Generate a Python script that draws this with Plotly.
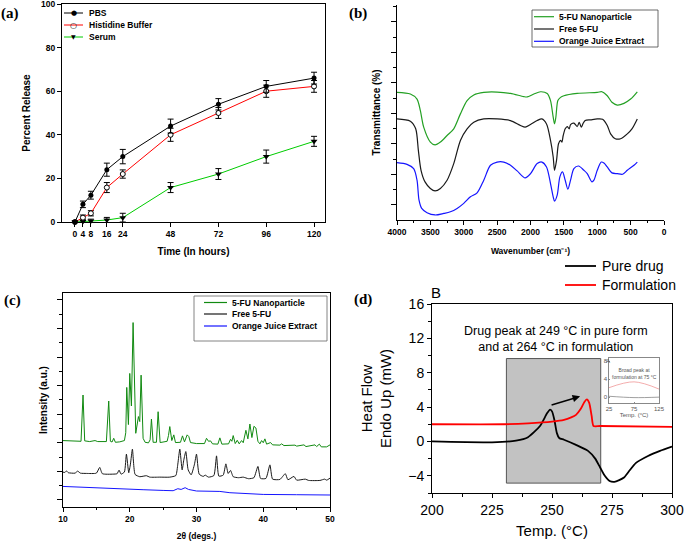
import plotly.graph_objects as go

W, H = 685, 542
AR = "Arial, Liberation Sans, sans-serif"
SERIF = "Times New Roman, Liberation Serif, serif"


def fx(p):
    return p / W


def fy(p):
    return 1 - p / H


# ---------------- (a) release data ----------------
time_h = [0, 4, 8, 16, 24, 48, 72, 96, 120]
pbs = [0, 8.1, 12.3, 24, 30, 44, 54, 62.2, 66]
pbs_err = [0.5, 1.5, 1.8, 3.0, 3.3, 3.2, 2.6, 2.7, 2.7]
his = [0, 2, 4, 15.8, 22, 40, 50, 60, 62.2]
his_err = [0.5, 1.2, 1.2, 2.3, 1.9, 3.0, 2.5, 2.8, 2.7]
ser = [0, 0.2, 0.5, 0.9, 2, 15.8, 22, 30, 37]
ser_err = [0.3, 0.8, 0.8, 1.2, 2.0, 2.3, 2.5, 3.0, 2.3]

# ---------------- (b) FTIR data ----------------
ftir_np_w = [4000, 3800, 3700, 3650, 3600, 3500, 3430, 3350, 3250, 3150, 3050, 2950, 2850, 2700, 2500,
             2300, 2100, 2050, 1950, 1850, 1750, 1700, 1660, 1640, 1620, 1590, 1550, 1500, 1300, 1000,
             930, 850, 780, 700, 600, 500, 400]
ftir_np_t = [83.7, 82.6, 79.3, 71.7, 60.9, 51.1, 49.3, 51.1, 55.4, 59.8, 69.6, 78.3, 82.0, 83.7, 83.9,
             83.0, 80.9, 80.7, 82.6, 84.1, 83.0, 78.3, 67.4, 63.0, 67.4, 78.3, 80.4, 81.5, 83.0, 83.7,
             84.1, 81.5, 77.2, 75.4, 76.5, 79.3, 84.1]
ftir_free_w = [4000, 3800, 3720, 3680, 3640, 3580, 3500, 3430, 3350, 3250, 3150, 3050, 2950, 2850, 2700,
               2500, 2300, 2150, 2080, 2000, 1900, 1830, 1760, 1700, 1660, 1640, 1610, 1580, 1550, 1530,
               1510, 1480, 1450, 1420, 1400, 1350, 1300, 1270, 1240, 1210, 1180, 1100, 1000, 920, 850,
               800, 730, 650, 550, 480, 400]
ftir_free_t = [66.3, 64.8, 59.8, 45.7, 32.6, 25.0, 20.7, 19.1, 20.7, 26.1, 37.0, 52.2, 59.8, 64.1, 66.3,
               66.3, 65.2, 62.0, 60.9, 62.6, 65.2, 66.3, 63.0, 52.2, 41.3, 32.6, 39.1, 50.0, 52.2, 51.1,
               55.4, 59.8, 61.3, 59.8, 62.6, 63.5, 61.3, 64.1, 60.9, 63.5, 65.2, 65.7, 66.3, 66.1, 62.0,
               56.5, 53.3, 53.3, 56.5, 59.8, 66.3]
ftir_oj_w = [4000, 3850, 3750, 3700, 3670, 3630, 3550, 3430, 3300, 3200, 3100, 3000, 2900, 2800, 2700,
             2600, 2500, 2400, 2300, 2200, 2080, 2000, 1900, 1830, 1760, 1700, 1660, 1640, 1600, 1560,
             1520, 1480, 1440, 1400, 1350, 1280, 1200, 1150, 1080, 1050, 1000, 940, 900, 850, 780,
             700, 620, 550, 450, 400]
ftir_oj_t = [37.6, 36.5, 33.7, 26.1, 13.0, 7.6, 4.8, 3.3, 4.3, 5.4, 7.6, 10.9, 15.2, 17.8, 26.1,
             35.9, 38.0, 38.0, 35.9, 32.2, 27.6, 30.4, 37.0, 38.0, 34.8, 23.9, 15.2, 12.4, 16.3, 28.3,
             31.5, 26.1, 20.2, 26.1, 33.7, 35.4, 32.6, 30.4, 25.0, 26.1, 32.6, 38.0, 37.4, 34.8, 30.9,
             30.4, 30.0, 32.6, 35.9, 38.0]

# ---------------- (c) XRD data ----------------
xrd_np_2t = [10.0, 10.6, 11.3, 12.0, 12.7, 13.0, 13.25, 14.0, 14.8, 15.2, 16.5, 16.85, 17.1, 17.35, 17.6,
             17.85, 18.5, 19.2, 19.4, 19.55, 19.8, 20.0, 20.25, 20.5, 20.9, 21.3, 21.5, 21.7, 22.0, 22.3,
             22.8, 23.05, 23.25, 23.5, 24.0, 24.25, 24.55, 25.6, 25.8, 26.0, 26.3, 26.6, 26.85, 27.6, 27.9,
             28.2, 28.6, 28.85, 29.1, 30.0, 31.2, 31.5, 31.8, 32.1, 32.4, 33.2, 33.5, 33.8, 34.8, 35.1,
             35.3, 35.5, 35.8, 36.1, 36.4, 36.75, 37.0, 37.4, 37.7, 38.0, 38.3, 38.6, 38.9, 39.2, 39.5,
             39.75, 40.0, 40.25, 40.5, 41.1, 41.4, 42.5, 42.75, 43.1, 44.75, 45.0, 46.1, 46.4, 47.75, 48.0,
             48.4, 48.7, 49.5, 50.0]
xrd_np_i = [46.5, 46.3, 46.5, 46.0, 46.0, 78.4, 46.3, 45.8, 46.5, 45.8, 45.8, 74.2, 46.0, 45.5, 48.1,
            45.3, 45.6, 46.5, 52.0, 83.7, 57.7, 93.5, 70.7, 129.1, 51.6, 63.3, 59.8, 92.3, 48.1, 45.3,
            44.9, 47.0, 61.6, 45.3, 45.3, 66.7, 45.1, 46.0, 50.0, 56.3, 46.5, 50.5, 45.1, 45.3, 49.8,
            45.6, 50.5, 49.3, 45.1, 44.4, 44.4, 48.1, 46.0, 46.3, 44.2, 44.0, 48.4, 44.0, 44.2, 47.4,
            46.0, 50.0, 44.4, 46.7, 44.2, 46.5, 45.0, 53.7, 47.7, 58.1, 48.6, 56.5, 55.3, 46.0, 44.2,
            46.5, 45.0, 47.7, 44.0, 45.1, 43.5, 43.3, 44.2, 43.0, 43.3, 42.6, 43.5, 42.3, 43.5, 42.3,
            44.0, 42.1, 42.1, 43.5]
xrd_free_2t = [10.0, 10.3, 10.5, 10.8, 11.8, 12.2, 12.6, 13.5, 15.0, 15.5, 15.9, 17.5, 18.1, 18.4, 18.7,
               19.2, 19.5, 19.85, 20.1, 20.4, 20.8, 21.5, 22.5, 23.0, 24.5, 26.0, 26.9, 27.2, 27.5, 27.85,
               28.1, 28.4, 28.75, 29.2, 29.7, 30.0, 30.4, 31.0, 31.3, 31.8, 32.6, 33.0, 33.35, 34.0, 34.4,
               34.75, 35.1, 35.5, 36.3, 37.0, 37.8, 38.6, 39.2, 39.6, 40.4, 41.0, 41.4, 42.5, 43.3, 43.7,
               44.6, 45.0, 46.3, 46.8, 48.5, 49.2, 49.5, 50.0]
xrd_free_i = [24.4, 24.2, 25.3, 24.0, 23.7, 25.1, 23.7, 23.5, 23.7, 27.7, 23.3, 23.0, 23.3, 25.8, 23.0,
              24.5, 37.0, 24.0, 30.0, 40.5, 22.8, 21.2, 21.9, 20.9, 20.9, 20.9, 22.0, 30.0, 40.5, 26.0,
              33.0, 38.8, 26.0, 22.5, 30.0, 37.0, 23.0, 21.4, 22.3, 20.9, 22.0, 35.8, 21.6, 22.3, 30.2,
              23.5, 25.6, 21.2, 20.5, 20.9, 19.8, 20.5, 28.4, 20.0, 20.0, 29.5, 19.5, 19.3, 23.3, 19.1,
              21.4, 18.8, 19.5, 18.6, 18.6, 19.5, 18.8, 20.2]
xrd_oj_2t = [10, 11, 12, 12.5, 14, 15, 17, 20, 22, 25, 26.5, 27.2, 27.7, 28.3, 28.8, 30, 33, 33.5, 35, 38,
             40, 45, 50]
xrd_oj_i = [14.4, 14.2, 14.0, 13.5, 13.7, 13.0, 12.8, 12.3, 12.1, 11.6, 11.4, 12.8, 12.3, 13.5, 12.3,
            11.2, 10.5, 10.9, 10.0, 9.3, 8.8, 8.6, 8.4]

# ---------------- (d) DSC data ----------------
dsc_pure_T = [200, 225, 235, 240, 245, 248, 249.2, 250, 251, 252, 253, 255, 260, 265, 268, 270, 272, 274,
              276, 278, 280, 282, 285, 290, 295, 300]
dsc_pure_q = [0, -0.1, 0.1, 0.5, 1.8, 3.3, 3.7, 3.5, 2.5, 1.0, 0.4, 0.2, -0.4, -1.1, -2.0, -3.0, -4.0,
              -4.6, -4.7, -4.5, -4.2, -3.5, -2.5, -1.7, -1.1, -0.6]
dsc_form_T = [200, 230, 240, 250, 255, 258, 260, 262, 263.5, 264.5, 265.5, 266.5, 267.3, 270, 300]
dsc_form_q = [2.0, 2.0, 2.1, 2.3, 2.5, 2.8, 3.1, 3.8, 4.6, 4.9, 4.5, 3.0, 1.8, 1.8, 1.7]
highlight_T = [231, 270.3]
highlight_q = [-4.85, 9.65]
arrow_T = [249.2, 261.7]
arrow_q = [4.2, 5.25]
inset_T = [25, 75, 125]
inset_form = [2.1, 3.4, 1.8]
inset_pure = [0.2, -0.1, 0.0]

fig = go.Figure()

# (a)
GREEN_A = "#00cc00"
fig.add_trace(go.Scatter(x=time_h, y=ser, mode="lines+markers", line=dict(color=GREEN_A, width=1),
                         marker=dict(symbol="triangle-down", size=6, color="black"),
                         error_y=dict(type="data", array=ser_err, color="black", thickness=1, width=3),
                         xaxis="x", yaxis="y", cliponaxis=False, name="Serum"))
fig.add_trace(go.Scatter(x=time_h, y=his, mode="lines+markers", line=dict(color="red", width=1),
                         marker=dict(symbol="circle", size=5, color="white", line=dict(color="black", width=1)),
                         error_y=dict(type="data", array=his_err, color="black", thickness=1, width=3),
                         xaxis="x", yaxis="y", cliponaxis=False, name="Histidine Buffer"))
fig.add_trace(go.Scatter(x=time_h, y=pbs, mode="lines+markers", line=dict(color="black", width=1),
                         marker=dict(symbol="circle", size=5, color="black"),
                         error_y=dict(type="data", array=pbs_err, color="black", thickness=1, width=3),
                         xaxis="x", yaxis="y", cliponaxis=False, name="PBS"))

# (b)
GREEN_B = "#23a023"
BLUE = "#1515ff"
BLACK = "#1a1a1a"
for w_, t_, c_, n_ in [(ftir_np_w, ftir_np_t, GREEN_B, "5-FU Nanoparticle"),
                       (ftir_free_w, ftir_free_t, BLACK, "Free 5-FU"),
                       (ftir_oj_w, ftir_oj_t, BLUE, "Orange Juice Extract")]:
    fig.add_trace(go.Scatter(x=w_, y=t_, mode="lines", line=dict(color=c_, width=1.2, shape="spline", smoothing=0.8),
                             xaxis="x2", yaxis="y2", name=n_))

# (c)
GREEN_C = "#118a11"
fig.add_trace(go.Scatter(x=xrd_oj_2t, y=xrd_oj_i, mode="lines", line=dict(color=BLUE, width=1),
                         xaxis="x3", yaxis="y3", name="Orange Juice Extract"))
fig.add_trace(go.Scatter(x=xrd_free_2t, y=xrd_free_i, mode="lines",
                         line=dict(color=BLACK, width=1, shape="spline", smoothing=0.5),
                         xaxis="x3", yaxis="y3", name="Free 5-FU"))
fig.add_trace(go.Scatter(x=xrd_np_2t, y=xrd_np_i, mode="lines", line=dict(color=GREEN_C, width=1),
                         xaxis="x3", yaxis="y3", name="5-FU Nanoparticle"))

# (d)
fig.add_trace(go.Scatter(x=dsc_pure_T, y=dsc_pure_q, mode="lines",
                         line=dict(color="black", width=1.8, shape="spline", smoothing=0.6),
                         xaxis="x4", yaxis="y4", name="Pure drug"))
fig.add_trace(go.Scatter(x=dsc_form_T, y=dsc_form_q, mode="lines",
                         line=dict(color="red", width=1.8, shape="spline", smoothing=0.6),
                         xaxis="x4", yaxis="y4", name="Formulation"))
# inset
fig.add_trace(go.Scatter(x=inset_T, y=inset_form, mode="lines", line=dict(color="#e88", width=0.7, shape="spline"),
                         xaxis="x5", yaxis="y5", name="Formulation (inset)"))
fig.add_trace(go.Scatter(x=inset_T, y=inset_pure, mode="lines", line=dict(color="#777", width=0.7, shape="spline"),
                         xaxis="x5", yaxis="y5", name="Pure drug (inset)"))

base = dict(showline=True, linecolor="black", linewidth=1, showgrid=False, zeroline=False,
            ticks="outside", tickcolor="black", automargin=False, ticklabeloverflow="allow")
bold9 = dict(family=AR, size=8.5, color="black", weight="bold")
boldt = dict(family=AR, size=10, color="black", weight="bold")

layout = dict(width=W, height=H, margin=dict(l=0, r=0, t=0, b=0, autoexpand=False), paper_bgcolor="white",
              plot_bgcolor="white", showlegend=False)

layout["xaxis"] = dict(base, domain=[fx(62), fx(325)], range=[-6.5, 125.5], tickvals=time_h, ticklen=4,
                       mirror=True, anchor="y", tickfont=bold9,
                       title=dict(text="Time (In hours)", font=boldt, standoff=9))
layout["yaxis"] = dict(base, domain=[fy(222), fy(4)], range=[0, 100], dtick=20, ticklen=4, mirror=True,
                       anchor="x", tickfont=bold9,
                       title=dict(text="Percent Release", font=boldt, standoff=8))

layout["xaxis2"] = dict(base, domain=[fx(397), fx(664)], range=[4000, 0], tickvals=list(range(4000, -1, -500)),
                        ticklen=4, anchor="y2", tickfont=bold9,
                        minor=dict(tickvals=list(range(3750, 0, -500)), ticklen=2, ticks="outside", tickcolor="black"),
                        title=dict(text="Wavenumber (cm⁻¹)", font=bold9, standoff=11))
layout["yaxis2"] = dict(base, domain=[fy(220), fy(5)], range=[0, 141], tickvals=list(range(10, 141, 20)),
                        ticklen=5, anchor="x2", showticklabels=False,
                        minor=dict(tickvals=list(range(20, 141, 20)), ticklen=3, ticks="outside", tickcolor="black"),
                        title=dict(text="Transmittance (%)", font=boldt, standoff=8))

layout["xaxis3"] = dict(base, domain=[fx(63), fx(330)], range=[10, 50], dtick=10, ticklen=4, mirror=True,
                        anchor="y3", tickfont=bold9,
                        minor=dict(dtick=5, ticklen=2, ticks="outside", tickcolor="black"),
                        title=dict(text="2θ (degs.)", font=bold9, standoff=9))
layout["yaxis3"] = dict(base, domain=[fy(507), fy(293)], range=[0, 149.8], tickvals=list(range(5, 150, 20)),
                        ticklen=5, mirror=True, anchor="x3", showticklabels=False,
                        minor=dict(tickvals=list(range(15, 150, 20)), ticklen=3, ticks="outside", tickcolor="black"),
                        title=dict(text="Intensity (a.u.)", font=boldt, standoff=7))

reg14 = dict(family=AR, size=14, color="black")
d_xt = list(range(200, 301, 25))
d_yt = list(range(-4, 17, 4))
layout["xaxis4"] = dict(base, domain=[fx(432), fx(672)], range=[200, 300], tickvals=d_xt,
                        ticklen=4, mirror=True, anchor="y4", tickfont=reg14,
                        minor=dict(dtick=12.5, tick0=200, ticklen=3, ticks="outside", tickcolor="black"),
                        title=dict(text="Temp. (°C)", font=dict(family=AR, size=15, color="black"),
                                   standoff=8))
layout["yaxis4"] = dict(base, domain=[fy(493), fy(304)], range=[-6, 16], tickvals=d_yt,
                        ticklen=4, mirror=True, anchor="x4", tickfont=reg14,
                        minor=dict(dtick=2, tick0=0, ticklen=3, ticks="outside", tickcolor="black"),
                        title=dict(text="Heat Flow<br>Endo Up (mW)", font=dict(family=AR, size=15, color="black"),
                                   standoff=12))
# inward ticks on top and right of (d)
layout["xaxis6"] = dict(overlaying="x4", matches="x4", side="top", anchor="y4", range=[200, 300], tickvals=d_xt,
                        ticks="inside", ticklen=4, tickcolor="black", showticklabels=False, showline=False,
                        showgrid=False, zeroline=False)
layout["yaxis6"] = dict(overlaying="y4", matches="y4", side="right", anchor="x4", range=[-6, 16], tickvals=d_yt,
                        ticks="inside", ticklen=4, tickcolor="black", showticklabels=False, showline=False,
                        showgrid=False, zeroline=False)

tiny = dict(family=AR, size=6, color="#555")
layout["xaxis5"] = dict(showline=True, linecolor="#888", linewidth=0.6, mirror=True, showgrid=False, zeroline=False,
                        domain=[fx(609), fx(659)], range=[25, 125], tickvals=[25, 75, 125],
                        ticks="inside", ticklen=1, tickcolor="#888", tickfont=tiny, anchor="y5",
                        ticklabeloverflow="allow",
                        title=dict(text="Temp. (°C)", font=tiny, standoff=1), automargin=False)
layout["yaxis5"] = dict(showline=True, linecolor="#888", linewidth=0.6, mirror=True, showgrid=False, zeroline=False,
                        domain=[fy(403), fy(358)], range=[-1.3, 8.7], tickvals=[0, 4, 8],
                        ticklabeloverflow="allow",
                        ticks="inside", ticklen=1, tickcolor="#888", tickfont=tiny, anchor="x5", automargin=False)

shapes = []
annotations = []

# grey highlight box in (d)
shapes.append(dict(type="rect", xref="x4", yref="y4", x0=highlight_T[0], x1=highlight_T[1],
                   y0=highlight_q[0], y1=highlight_q[1], fillcolor="#c2c2c2", line=dict(color="#555", width=1),
                   layer="below"))

# arrow in (d)
annotations.append(dict(xref="x4", yref="y4", axref="x4", ayref="y4", x=arrow_T[1], y=arrow_q[1],
                        ax=arrow_T[0], ay=arrow_q[0], showarrow=True, arrowhead=2, arrowsize=1, arrowwidth=1.5,
                        arrowcolor="black", text=""))
annotations.append(dict(xref="paper", yref="paper", x=fx(556), y=fy(339), xanchor="center", yanchor="middle",
                        showarrow=False, align="center",
                        text="Drug peak at 249 °C in pure form<br>and at 264 °C in formulation",
                        font=dict(family=AR, size=12.5, color="black")))
annotations.append(dict(xref="paper", yref="paper", x=fx(436), y=fy(292), xanchor="center", yanchor="middle",
                        showarrow=False, text="B", font=dict(family=AR, size=15, color="black")))
# inset annotation
annotations.append(dict(xref="x5", yref="y5", x=75, y=3.5, ax=0, ay=-8, showarrow=True, arrowhead=0,
                        arrowwidth=0.5, arrowcolor="#555", text="Broad peak at<br>formulation at 75 °C",
                        font=dict(family=AR, size=5, color="#555"), standoff=0))
annotations.append(dict(xref="paper", yref="paper", x=fx(612), y=fy(361), showarrow=False, text="A",
                        font=dict(family=AR, size=6, color="#555")))

# panel labels
for lab, px_, py_ in [("(a)", 10, 13), ("(b)", 358, 13), ("(c)", 12, 300), ("(d)", 363, 299)]:
    annotations.append(dict(xref="paper", yref="paper", x=fx(px_), y=fy(py_), xanchor="center", yanchor="middle",
                            showarrow=False, text="<b>%s</b>" % lab, font=dict(family=SERIF, size=15, color="black")))


def legend_row(y, x0, x1, xt, color, text, font, lw=1.2, glyph=None, gcolor="black", gsize=8):
    shapes.append(dict(type="line", xref="paper", yref="paper", x0=fx(x0), x1=fx(x1), y0=fy(y), y1=fy(y),
                       line=dict(color=color, width=lw)))
    if glyph:
        annotations.append(dict(xref="paper", yref="paper", x=fx((x0 + x1) / 2), y=fy(y), xanchor="center",
                                yanchor="middle", showarrow=False, text=glyph,
                                font=dict(family="DejaVu Sans", size=gsize, color=gcolor)))
    annotations.append(dict(xref="paper", yref="paper", x=fx(xt), y=fy(y), xanchor="left", yanchor="middle",
                            showarrow=False, text=text, font=font))


# legend (a)
legend_row(13, 64, 83, 87, "black", "PBS", bold9, lw=1, glyph="●", gsize=7)
legend_row(25, 64, 83, 87, "red", "Histidine Buffer", bold9, lw=1, glyph="○", gsize=8)
legend_row(37, 64, 83, 87, GREEN_A, "Serum", bold9, lw=1, glyph="▼", gsize=6)

# legend (b)
shapes.append(dict(type="rect", xref="paper", yref="paper", x0=fx(532), x1=fx(658), y0=fy(47), y1=fy(10),
                   line=dict(color="#444", width=0.8), fillcolor="rgba(0,0,0,0)"))
legend_row(16.7, 534, 554, 557, GREEN_B, "5-FU Nanoparticle", bold9)
legend_row(29, 534, 554, 557, BLACK, "Free 5-FU", bold9)
legend_row(41.3, 534, 554, 557, BLUE, "Orange Juice Extract", bold9)

# legend (c)
shapes.append(dict(type="rect", xref="paper", yref="paper", x0=fx(194), x1=fx(327), y0=fy(341), y1=fy(296),
                   line=dict(color="#666", width=0.8), fillcolor="rgba(0,0,0,0)"))
legend_row(302.5, 204, 227, 230, GREEN_C, "5-FU Nanoparticle", bold9)
legend_row(314, 204, 227, 230, BLACK, "Free 5-FU", bold9)
legend_row(326, 204, 227, 230, BLUE, "Orange Juice Extract", bold9)

# legend (d)
legend_row(266, 565, 596, 600, "black", "Pure drug", reg14, lw=1.8)
legend_row(285, 565, 596, 600, "red", "Formulation", reg14, lw=1.8)

layout["shapes"] = shapes
layout["annotations"] = annotations
fig.update_layout(**layout)
fig.write_html("out.html", config={"displayModeBar": False},
               post_script="document.body.style.margin='0px';document.body.style.overflow='hidden';")
